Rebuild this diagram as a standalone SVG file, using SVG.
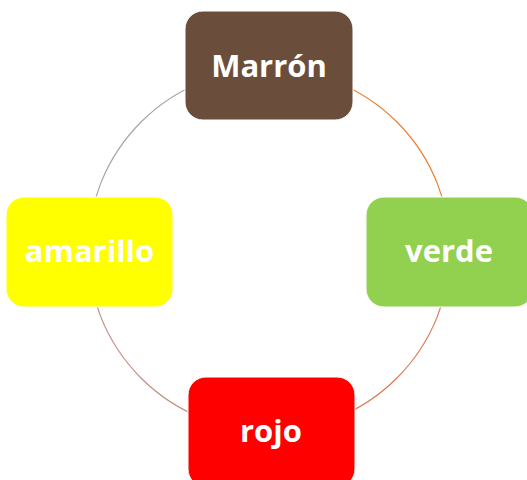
<svg xmlns="http://www.w3.org/2000/svg" width="527" height="480" viewBox="0 0 527 480">
<style>
.arc{fill:none;stroke-width:1.2}
.box{stroke:#ffffff;stroke-width:1}
.lbl{font-family:"Open Sans","Liberation Sans",sans-serif;font-weight:700;font-size:31px;fill:#ffffff;text-anchor:middle}
</style>
<rect width="527" height="480" fill="#ffffff"/>
<g id="connectors">
<path class="arc" stroke="#A5A5A5" d="M 269 69 A 181 181 0 0 0 88 250"/>
<path class="arc" stroke="#ED7D31" d="M 269 69 A 181 181 0 0 1 450 250"/>
<path class="arc" stroke="#DB7B5A" d="M 450 250 A 181 181 0 0 1 269 431"/>
<path class="arc" stroke="#C48E84" d="M 269 431 A 181 181 0 0 1 88 250"/>
</g>
<g id="marron">
<rect class="box" x="185" y="11" width="168" height="109" rx="18" fill="#6A4E3B"/>
<text class="lbl" x="269" y="76.5">Marrón</text>
</g>
<g id="amarillo">
<rect class="box" x="6" y="197" width="167" height="110" rx="18" fill="#FFFF00"/>
<text class="lbl" x="89.5" y="262">amarillo</text>
</g>
<g id="verde">
<rect class="box" x="366" y="197" width="167" height="110" rx="18" fill="#92D050"/>
<text class="lbl" x="449" y="262">verde</text>
</g>
<g id="rojo">
<rect class="box" x="188" y="377" width="167" height="110" rx="18" fill="#FF0000"/>
<text class="lbl" x="271" y="442">rojo</text>
</g>
</svg>
